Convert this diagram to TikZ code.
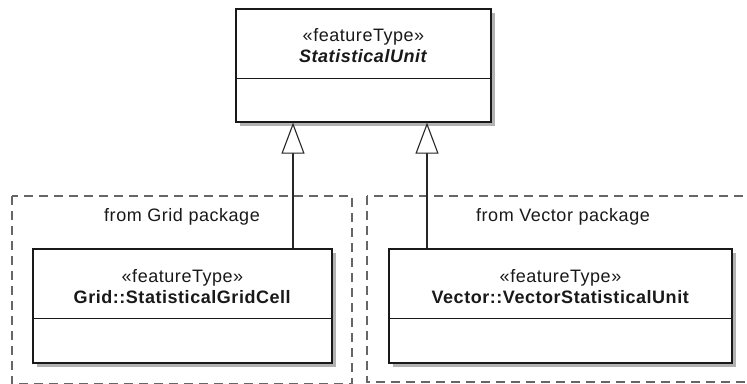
\documentclass[tikz,border=0pt]{standalone}
\usepackage{fontspec}
\setmainfont{Liberation Sans}[LetterSpace=3]
\usetikzlibrary{arrows.meta,shadows,calc}

\begin{document}
\begin{tikzpicture}[x=1pt, y=-1pt,
    classbox/.style={draw=black!90, line width=1.3pt, fill=white, inner sep=0pt,
      drop shadow={shadow xshift=3.5pt, shadow yshift=-3.5pt, fill=black!30, opacity=1}},
    pkgbox/.style={draw=black!60, line width=1.4pt, dash pattern=on 9pt off 6pt},
    classtext/.style={align=center, text=black!90, font=\fontsize{18}{21}\selectfont},
    inherit/.style={draw=black!85, line width=1.1pt,
      -{Triangle[open, length=31pt, width=23pt, fill=white]}}]
  \useasboundingbox (0,0) rectangle (747,383);
  \clip (0,0) rectangle (747,383);
  % packages
  \draw[pkgbox] (12,196) rectangle (352,384);
  \draw[pkgbox] (367,196) rectangle (759,382);
  \node[classtext] (gridpkg) at (182,217) {from Grid package};
  \node[classtext] (vectorpkg) at (563,217) {from Vector package};
  % classes
  \node[classbox, minimum width=255pt, minimum height=113pt] (unit) at (363.5,65.5) {};
  \draw[line width=1.3pt, black!90] ($(unit.north west)+(0,70)$) -- ($(unit.north east)+(0,70)$);
  \node[classtext] (unittext) at ($(unit.north)+(0,37)$) {«featureType»\\\textbf{\textit{StatisticalUnit}}};
  \node[classbox, minimum width=299pt, minimum height=114pt] (cell) at (182.5,306) {};
  \draw[line width=1.3pt, black!90] ($(cell.north west)+(0,70)$) -- ($(cell.north east)+(0,70)$);
  \node[classtext] (celltext) at ($(cell.north)+(0,38)$) {«featureType»\\\textbf{Grid::StatisticalGridCell}};
  \node[classbox, minimum width=343pt, minimum height=114pt] (vunit) at (560.5,306) {};
  \draw[line width=1.3pt, black!90] ($(vunit.north west)+(0,70)$) -- ($(vunit.north east)+(0,70)$);
  \node[classtext] (vunittext) at ($(vunit.north)+(0,38)$) {«featureType»\\\textbf{Vector::VectorStatisticalUnit}};
  % generalizations
  \coordinate (g1) at (293,0);
  \coordinate (g2) at (427,0);
  \draw[inherit] (cell.north -| g1) -- (unit.south -| g1);
  \draw[inherit] (vunit.north -| g2) -- (unit.south -| g2);
\end{tikzpicture}
\end{document}
